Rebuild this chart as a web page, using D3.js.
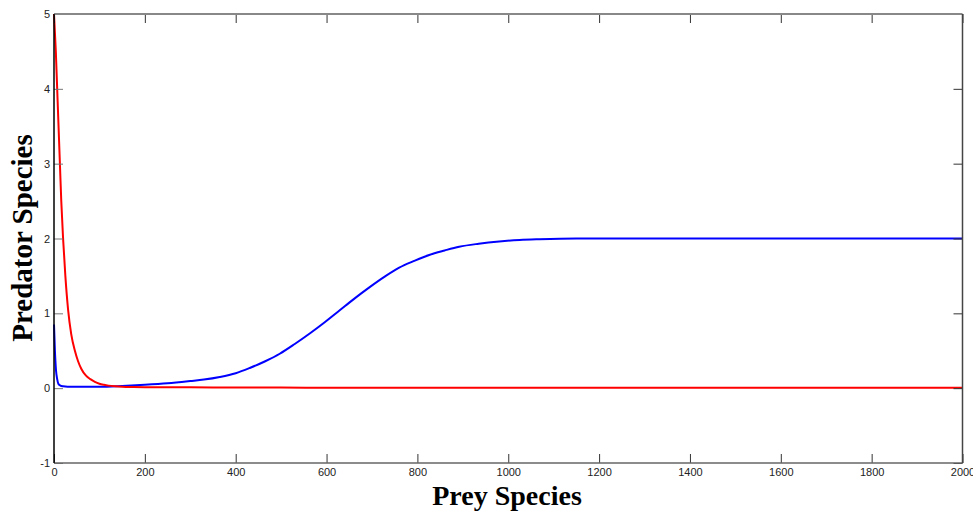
<!DOCTYPE html>
<html lang="en">
<head>
<meta charset="UTF-8">
<title>Predator / Prey</title>
<style>
  body { margin: 0; background: #fff; }
  .tick text { font-family: "Liberation Sans", Arial, sans-serif; font-size: 11px; fill: #222; }
</style>
</head>
<body>
<script src="https://d3js.org/d3.v7.min.js"></script>
<script type="text/javascript">
  var width = 973;
  var height = 512;
  var margin = {left: 54, right: 10, top: 14, bottom: 49};

  // data
  var xTicks = [0, 200, 400, 600, 800, 1000, 1200, 1400, 1600, 1800, 2000];
  var yTicks = [-1, 0, 1, 2, 3, 4, 5];

  var redX = [0, 4, 7, 10, 13, 16, 20, 25, 31, 38, 46, 53, 60, 70, 80, 90, 100, 110, 120, 135, 150, 175, 200, 300, 400, 500, 600, 1000, 1500, 2000];
  var redY = [5, 4.5, 4, 3.5, 3, 2.5, 2, 1.5, 1.05, 0.72, 0.5, 0.36, 0.26, 0.17, 0.12, 0.085, 0.06, 0.045, 0.034, 0.024, 0.018, 0.014, 0.012, 0.011, 0.01, 0.008, 0.006, 0.005, 0.005, 0.005];

  var blueX = [0, 2, 4.4, 7, 9.5, 14, 20, 30, 60, 100, 150, 200, 250, 300, 330, 365, 400, 431, 465, 497, 530, 563, 596, 629, 662, 695, 728, 760, 793, 826, 860, 892, 935, 980, 1025, 1068, 1150, 1250, 1500, 2000];
  var blueY = [0.85, 0.5, 0.24, 0.12, 0.06, 0.035, 0.025, 0.02, 0.02, 0.02, 0.03, 0.045, 0.065, 0.095, 0.115, 0.15, 0.2, 0.27, 0.36, 0.46, 0.59, 0.73, 0.88, 1.04, 1.2, 1.35, 1.49, 1.61, 1.7, 1.78, 1.84, 1.89, 1.93, 1.96, 1.98, 1.99, 2.0, 2.0, 2.0, 2.0];

  var svg = d3.select("body").append("svg").attr("width", width).attr("height", height);

  var x = d3.scaleLinear().domain([0, 2000]).range([margin.left, width - margin.right - 0.5]);
  var y = d3.scaleLinear().domain([-1, 5]).range([height - margin.bottom, margin.top]);

  var x0 = x(0), x1 = x(2000), y0 = y(-1), y1 = y(5);

  // curves
  var line = d3.line().x(function(d){ return x(d[0]); }).y(function(d){ return y(d[1]); }).curve(d3.curveMonotoneX);
  var blue = blueX.map(function(v, i){ return [v, blueY[i]]; });
  var red = redX.map(function(v, i){ return [v, redY[i]]; });

  svg.append("path").datum(blue).attr("d", line)
    .attr("fill", "none").attr("stroke", "#0000ff").attr("stroke-width", 2);
  svg.append("path").datum(red).attr("d", line)
    .attr("fill", "none").attr("stroke", "#ff0000").attr("stroke-width", 2);

  // axes (ticks point inward)
  var fmt = function(d){ return String(d); };
  var xAxis = d3.axisBottom(x).tickValues(xTicks).tickSize(-9).tickPadding(5).tickFormat(fmt);
  var yAxis = d3.axisLeft(y).tickValues(yTicks).tickSize(-9).tickPadding(4).tickFormat(fmt);

  var gx = svg.append("g").attr("transform", "translate(0," + y0 + ")").call(xAxis);
  var gy = svg.append("g").attr("transform", "translate(" + x0 + ",0)").call(yAxis);
  var gt = svg.append("g").attr("transform", "translate(0," + y1 + ")")
    .call(d3.axisTop(x).tickValues(xTicks).tickSize(-9).tickFormat(""));
  var gr = svg.append("g").attr("transform", "translate(" + x1 + ",0)")
    .call(d3.axisRight(y).tickValues(yTicks).tickSize(-9).tickFormat(""));

  [gx, gy, gt, gr].forEach(function(g){
    g.select(".domain").remove();
    g.selectAll(".tick line").attr("stroke", "#333");
  });
  gy.selectAll(".tick line").attr("stroke", "#777");

  // box
  svg.append("line").attr("x1", x0).attr("x2", x1).attr("y1", y1).attr("y2", y1).attr("stroke", "#888").attr("stroke-width", 2);
  svg.append("line").attr("x1", x0).attr("x2", x1).attr("y1", y0).attr("y2", y0).attr("stroke", "#666").attr("stroke-width", 1.5);
  svg.append("line").attr("x1", x0).attr("x2", x0).attr("y1", y1).attr("y2", y0).attr("stroke", "#000").attr("stroke-width", 1.5);
  svg.append("line").attr("x1", x1).attr("x2", x1).attr("y1", y1).attr("y2", y0).attr("stroke", "#444").attr("stroke-width", 1.5);

  // axis titles
  svg.append("text")
    .attr("x", 507).attr("y", 505)
    .attr("text-anchor", "middle")
    .style("font-family", "'Liberation Serif', 'Times New Roman', serif")
    .style("font-weight", "bold").style("font-size", "28px")
    .text("Prey Species");

  svg.append("text")
    .attr("transform", "translate(32,238) rotate(-90)")
    .attr("text-anchor", "middle")
    .style("font-family", "'Liberation Serif', 'Times New Roman', serif")
    .style("font-weight", "bold").style("font-size", "29px")
    .text("Predator Species");
</script>
</body>
</html>
